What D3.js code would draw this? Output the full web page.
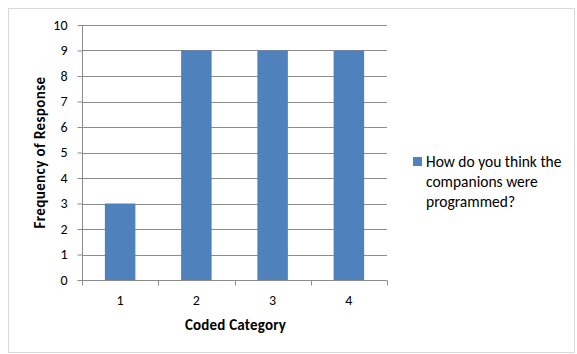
<!DOCTYPE html>
<html>
<head>
<meta charset="utf-8">
<script src="https://cdn.jsdelivr.net/npm/d3@7"></script>
<style>
  html, body { margin: 0; padding: 0; background: #fff; }
  svg { display: block; font-family: Carlito, Lato, "Open Sans", sans-serif; }
</style>
</head>
<body>
<svg id="chart" width="577" height="354"></svg>
<script>
// Response counts per coded category
const categories = ["1", "2", "3", "4"];
const frequencies = [3, 9, 9, 9];
const yTicks = [0, 1, 2, 3, 4, 5, 6, 7, 8, 9, 10];
const seriesName = "How do you think the companions were programmed?";
const legendLines = ["How do you think the", "companions were", "programmed?"];

const svg = d3.select("#chart");
const W = 577, H = 354;
const FONT = "Carlito, Lato, 'Open Sans', sans-serif";

// chart frame
svg.append("rect")
  .attr("x", 8.5).attr("y", 8.5)
  .attr("width", W - 11).attr("height", H - 10)
  .attr("fill", "#fff").attr("stroke", "#d9d9d9").attr("stroke-width", 1);

const plot = { left: 82, right: 387, top: 25, bottom: 280 };

const x = d3.scaleBand()
  .domain(categories)
  .range([plot.left, plot.right])
  .paddingInner(0.6).paddingOuter(0.3);

const y = d3.scaleLinear().domain([0, 10]).range([plot.bottom, plot.top]);

// horizontal gridlines
svg.append("g")
  .selectAll("line")
  .data(yTicks.filter(d => d > 0))
  .join("line")
  .attr("x1", plot.left).attr("x2", plot.right)
  .attr("y1", d => Math.round(y(d)) + 0.5).attr("y2", d => Math.round(y(d)) + 0.5)
  .attr("stroke", "#8c8c8c").attr("stroke-width", 1);

// bars
svg.append("g")
  .selectAll("rect")
  .data(categories.map((c, i) => ({ c, v: frequencies[i] })))
  .join("rect")
  .attr("x", d => x(d.c))
  .attr("width", x.bandwidth())
  .attr("y", d => y(d.v))
  .attr("height", d => y(0) - y(d.v))
  .attr("fill", "#4f81bd");

// y axis
const yAxis = svg.append("g")
  .attr("transform", `translate(${plot.left + 0.5},0)`)
  .call(d3.axisLeft(y).tickValues(yTicks).tickSize(5).tickPadding(10).tickFormat(d3.format("d")));
yAxis.select(".domain").attr("stroke", "#8c8c8c").attr("d", `M0,${plot.top}V${plot.bottom}`);
yAxis.selectAll(".tick line").attr("stroke", "#8c8c8c");
yAxis.selectAll(".tick text").attr("font-size", 14).attr("fill", "#000")
  .attr("font-family", FONT);

// x axis with ticks at band boundaries
const xAxisG = svg.append("g").attr("transform", `translate(0,${plot.bottom + 0.5})`);
xAxisG.append("line")
  .attr("x1", plot.left).attr("x2", plot.right)
  .attr("stroke", "#8c8c8c");
const step = (plot.right - plot.left) / categories.length;
xAxisG.selectAll("line.tk")
  .data(d3.range(categories.length + 1))
  .join("line").attr("class", "tk")
  .attr("x1", i => Math.round(plot.left + i * step) + 0.5)
  .attr("x2", i => Math.round(plot.left + i * step) + 0.5)
  .attr("y1", 0).attr("y2", 5)
  .attr("stroke", "#8c8c8c");
xAxisG.selectAll("text")
  .data(categories)
  .join("text")
  .attr("x", c => x(c) + x.bandwidth() / 2)
  .attr("y", 24)
  .attr("text-anchor", "middle")
  .attr("font-size", 14).attr("fill", "#000")
  .text(c => c);

// axis titles
svg.append("text")
  .attr("x", (plot.left + plot.right) / 2 + 1).attr("y", 330)
  .attr("text-anchor", "middle")
  .attr("font-size", 15).attr("font-weight", "bold").attr("fill", "#000")
  .attr("letter-spacing", 0.2)
  .text("Coded Category");

svg.append("text")
  .attr("transform", `translate(45,${(plot.top + plot.bottom) / 2}) rotate(-90)`)
  .attr("text-anchor", "middle")
  .attr("font-size", 15).attr("font-weight", "bold").attr("fill", "#000")
  .attr("letter-spacing", 0.4)
  .text("Frequency of Response");

// legend
const legend = svg.append("g").attr("aria-label", seriesName);
legend.append("rect")
  .attr("x", 413).attr("y", 157).attr("width", 9).attr("height", 9)
  .attr("fill", "#4f81bd");
legend.selectAll("text")
  .data(legendLines)
  .join("text")
  .attr("x", 426)
  .attr("y", (d, i) => 167 + i * 20)
  .attr("font-size", 15.5).attr("fill", "#000")
  .text(d => d);
</script>
</body>
</html>
